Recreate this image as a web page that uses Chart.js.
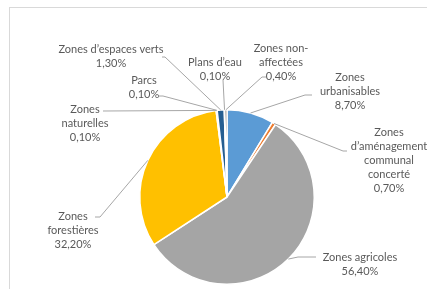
<!DOCTYPE html>
<html>
<head>
<meta charset="utf-8">
<script src="https://cdn.jsdelivr.net/npm/chart.js@4"></script>
<style>
  html, body { margin: 0; padding: 0; background: #fff; }
  #wrap { position: relative; width: 427px; height: 289px; }
  #frame { position: absolute; left: 9px; top: 7px; right: -2px; bottom: -2px; border: 1px solid #d9d9d9; }
</style>
</head>
<body>
<div id="wrap">
  <div id="frame"></div>
  <canvas id="myChart" width="427" height="289"></canvas>
</div>
<script>
// données
const categories = [
  ['Zones', 'urbanisables'],
  ['Zones', 'd\u2019aménagement', 'communal', 'concerté'],
  ['Zones agricoles'],
  ['Zones', 'forestières'],
  ['Zones', 'naturelles'],
  ['Parcs'],
  ['Zones d\u2019espaces verts'],
  ['Plans d\u2019eau'],
  ['Zones non-', 'affectées']
];
const valeurs = [8.7, 0.7, 56.4, 32.2, 0.1, 0.1, 1.3, 0.1, 0.4];
const pourcentages = ['8,70%', '0,70%', '56,40%', '32,20%', '0,10%', '0,10%', '1,30%', '0,10%', '0,40%'];
const couleurs = ['#5B9BD5', '#ED7D31', '#A5A5A5', '#FFC000', '#4472C4', '#70AD47', '#255E91', '#9E480E', '#636363'];

// placement des étiquettes (centre de la 1re ligne) et des lignes de rappel
const labelPos = [[350, 77], [389, 132], [360, 257], [73, 216], [85, 109], [144, 80], [111, 49], [215, 62], [281, 48]];
const leaderElbow = [[305, 95], [343, 151], [298, 257], [100, 217], [103, 111], [163, 96], [165, 57], [223, 80], [262, 77]];
const leaderEnd = [[312, 95], [347, 151], [316, 257], [95, 217], [103, 111], [159, 96], [162, 57], [223, 80], [266, 77]];

(() => {
    const ctx = document.getElementById('myChart').getContext('2d');

    const etiquettes = {
        id: 'etiquettes',
        afterDatasetsDraw(chart) {
            const c = chart.ctx;
            const arcs = chart.getDatasetMeta(0).data;
            c.save();
            c.strokeStyle = '#a6a6a6';
            c.lineWidth = 1;
            arcs.forEach((arc, i) => {
                const p = arc.getProps(['x', 'y', 'startAngle', 'endAngle', 'outerRadius'], true);
                const mid = (p.startAngle + p.endAngle) / 2;
                const sx = p.x + Math.cos(mid) * p.outerRadius;
                const sy = p.y + Math.sin(mid) * p.outerRadius;
                c.beginPath();
                c.moveTo(sx, sy);
                c.lineTo(leaderElbow[i][0], leaderElbow[i][1]);
                c.lineTo(leaderEnd[i][0], leaderEnd[i][1]);
                c.stroke();
            });
            c.fillStyle = '#595959';
            c.font = '11px Lato';
            c.textAlign = 'center';
            c.textBaseline = 'middle';
            categories.forEach((lignes, i) => {
                const all = lignes.concat([pourcentages[i]]);
                all.forEach((t, k) => {
                    c.fillText(t, labelPos[i][0], labelPos[i][1] + k * 14);
                });
            });
            c.restore();
        }
    };

    new Chart(ctx, {
        type: 'pie',
        data: {
            labels: categories.map(l => l.join(' ')),
            datasets: [{
                data: valeurs,
                backgroundColor: couleurs,
                borderColor: '#ffffff',
                borderWidth: 1.5
            }]
        },
        options: {
            responsive: false,
            animation: false,
            layout: { padding: { top: 109, bottom: 4, left: 139, right: 112 } },
            plugins: {
                legend: { display: false },
                tooltip: { enabled: false }
            }
        },
        plugins: [etiquettes]
    });
})();
</script>
</body>
</html>
